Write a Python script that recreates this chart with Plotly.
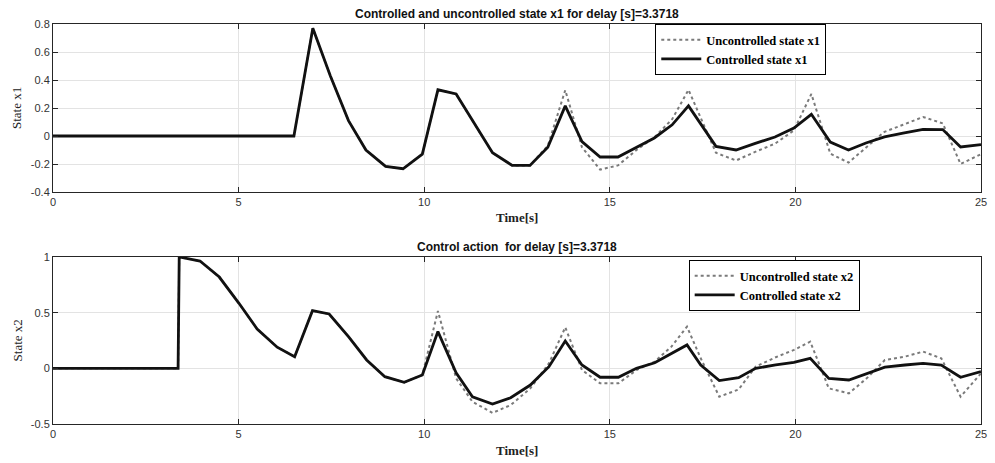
import plotly.graph_objects as go

# ---------------- data ----------------
t1 = [0, 6.49, 7.0, 7.47, 7.96, 8.43, 8.96, 9.43, 9.95, 10.37, 10.86, 11.35, 11.84, 12.37,
      12.85, 13.33, 13.80, 14.25, 14.74, 15.22, 15.72, 16.2, 16.68, 17.12, 17.86, 18.4,
      18.9, 19.45, 19.96, 20.43, 20.94, 21.43, 21.9, 22.4, 22.9, 23.44, 23.97, 24.45, 25.0]
x1_ctrl = [0, 0, 0.77, 0.43, 0.11, -0.10, -0.217, -0.234, -0.13, 0.33, 0.30, 0.09, -0.12, -0.21,
           -0.21, -0.08, 0.215, -0.04, -0.15, -0.15, -0.08, -0.014, 0.08, 0.215, -0.074, -0.10,
           -0.055, -0.007, 0.057, 0.155, -0.043, -0.10, -0.05, -0.007, 0.02, 0.048, 0.046, -0.078, -0.062]
x1_unc = [0, 0, 0.77, 0.43, 0.11, -0.10, -0.217, -0.234, -0.13, 0.33, 0.30, 0.09, -0.12, -0.21,
          -0.21, -0.07, 0.327, -0.08, -0.24, -0.21, -0.10, -0.01, 0.12, 0.33, -0.12, -0.175,
          -0.115, -0.055, 0.04, 0.30, -0.126, -0.19, -0.08, 0.03, 0.08, 0.136, 0.09, -0.20, -0.13]

t2 = [0, 3.37, 3.40, 3.96, 4.48, 5.01, 5.5, 6.04, 6.51, 6.99, 7.44, 7.96, 8.45, 8.94, 9.46,
      9.95, 10.37, 10.86, 11.3, 11.84, 12.33, 12.86, 13.36, 13.8, 14.25, 14.74, 15.23, 15.72,
      16.21, 16.66, 17.08, 17.45, 17.95, 18.47, 18.93, 19.47, 19.96, 20.4, 20.9, 21.44, 21.92,
      22.41, 22.95, 23.44, 23.93, 24.45, 25.0]
x2_ctrl = [0, 0, 1.0, 0.964, 0.82, 0.584, 0.353, 0.19, 0.105, 0.518, 0.488, 0.284, 0.075, -0.075,
           -0.126, -0.06, 0.33, -0.04, -0.255, -0.32, -0.264, -0.15, 0.015, 0.245, 0.03, -0.08,
           -0.08, 0.0, 0.05, 0.135, 0.21, 0.03, -0.11, -0.084, 0.0, 0.03, 0.054, 0.09, -0.09,
           -0.105, -0.045, 0.01, 0.03, 0.045, 0.03, -0.08, -0.03]
x2_unc = [0, 0, 1.0, 0.964, 0.82, 0.584, 0.353, 0.19, 0.105, 0.518, 0.488, 0.284, 0.075, -0.075,
          -0.126, -0.06, 0.515, -0.09, -0.30, -0.40, -0.33, -0.18, 0.045, 0.368, -0.015, -0.135,
          -0.135, -0.015, 0.06, 0.195, 0.374, 0.09, -0.255, -0.19, 0.015, 0.10, 0.165, 0.24, -0.18,
          -0.225, -0.09, 0.075, 0.105, 0.15, 0.09, -0.255, -0.045]

x_ticks = [0, 5, 10, 15, 20, 25]
y1_ticks = [-0.4, -0.2, 0, 0.2, 0.4, 0.6, 0.8]
y1_labels = ["-0.4", "-0.2", "0", "0.2", "0.4", "0.6", "0.8"]
y2_ticks = [-0.5, 0, 0.5, 1]
y2_labels = ["-0.5", "0", "0.5", "1"]

title1 = "Controlled and uncontrolled state x1 for delay [s]=3.3718"
title2 = "Control action  for delay [s]=3.3718"

# ---------------- figure ----------------
UNC = dict(color="#7a7a7a", width=2, dash="dot")
CTL = dict(color="#111111", width=2.8)

fig = go.Figure()
fig.add_trace(go.Scatter(x=t1, y=x1_unc, mode="lines", line=UNC, name="<b>Uncontrolled state x1</b>",
                         xaxis="x", yaxis="y", legend="legend"))
fig.add_trace(go.Scatter(x=t1, y=x1_ctrl, mode="lines", line=CTL, name="<b>Controlled state x1</b>",
                         xaxis="x", yaxis="y", legend="legend"))
fig.add_trace(go.Scatter(x=t2, y=x2_unc, mode="lines", line=UNC, name="<b>Uncontrolled state x2</b>",
                         xaxis="x2", yaxis="y2", legend="legend2"))
fig.add_trace(go.Scatter(x=t2, y=x2_ctrl, mode="lines", line=CTL, name="<b>Controlled state x2</b>",
                         xaxis="x2", yaxis="y2", legend="legend2"))

tickfont = dict(family="Liberation Sans, Arial", size=11, color="#333333")
axcommon = dict(showline=True, linecolor="#262626", linewidth=1, mirror="ticks",
                ticks="inside", ticklen=5, tickcolor="#262626", showgrid=True,
                gridcolor="#e3e3e3", gridwidth=1, zeroline=False, tickfont=tickfont)

legfont = dict(family="Liberation Serif, Times New Roman", size=12.5, color="#000000")
serif_b = dict(family="Liberation Serif, Times New Roman", size=13, color="#222222")

fig.update_layout(
    width=995, height=463,
    margin=dict(l=53, r=8, t=24, b=39),
    paper_bgcolor="white", plot_bgcolor="white",
    showlegend=True,
    xaxis=dict(domain=[0, 1], range=[0, 25], tickvals=x_ticks, anchor="y", **axcommon),
    yaxis=dict(domain=[0.58, 1], range=[-0.4, 0.8], tickvals=y1_ticks, ticktext=y1_labels,
               anchor="x", **axcommon),
    xaxis2=dict(domain=[0, 1], range=[0, 25], tickvals=x_ticks, anchor="y2", **axcommon),
    yaxis2=dict(domain=[0, 0.4175], range=[-0.5, 1], tickvals=y2_ticks, ticktext=y2_labels,
                anchor="x2", **axcommon),
    legend=dict(x=0.649, y=1.0, xanchor="left", yanchor="top", bgcolor="white",
                bordercolor="#000000", borderwidth=1, font=legfont, tracegroupgap=0,
                itemwidth=40),
    legend2=dict(x=0.685, y=0.41, xanchor="left", yanchor="top", bgcolor="white",
                 bordercolor="#000000", borderwidth=1, font=legfont, tracegroupgap=0,
                 itemwidth=40),
    annotations=[
        dict(text="<b>" + title1 + "</b>", x=0.5, y=1.0, xref="paper", yref="paper",
             xanchor="center", yanchor="bottom", showarrow=False, yshift=1,
             font=dict(family="Liberation Sans, Arial", size=12, color="#111111")),
        dict(text="<b>" + title2 + "</b>", x=0.5, y=0.4175, xref="paper", yref="paper",
             xanchor="center", yanchor="bottom", showarrow=False, yshift=1,
             font=dict(family="Liberation Sans, Arial", size=12, color="#111111")),
        dict(text="<b>Time[s]</b>", x=0.5, y=0.58, xref="paper", yref="paper",
             xanchor="center", yanchor="middle", showarrow=False, yshift=-25, font=serif_b),
        dict(text="<b>Time[s]</b>", x=0.5, y=0.0, xref="paper", yref="paper",
             xanchor="center", yanchor="middle", showarrow=False, yshift=-26, font=serif_b),
        dict(text="State x1", x=0, y=0.79, xref="paper", yref="paper", textangle=-90,
             xanchor="center", yanchor="middle", showarrow=False, xshift=-36, font=serif_b),
        dict(text="State x2", x=0, y=0.209, xref="paper", yref="paper", textangle=-90,
             xanchor="center", yanchor="middle", showarrow=False, xshift=-36, font=serif_b),
    ],
)

fig.write_html("out.html")
